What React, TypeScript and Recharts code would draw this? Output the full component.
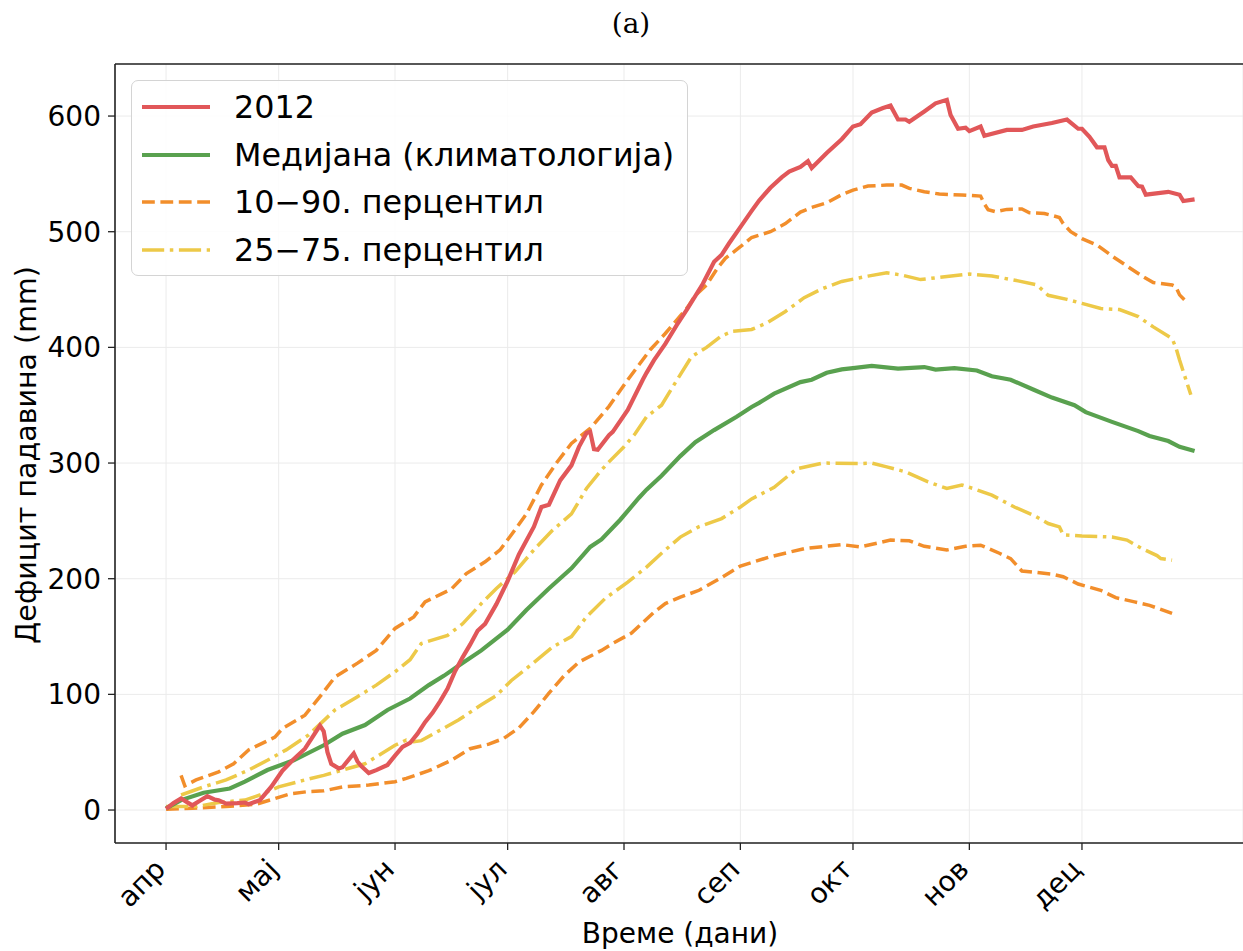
import React from 'react';
import { LineChart, Line, XAxis, YAxis, CartesianGrid, Legend, ReferenceLine } from 'recharts';

// ---- axis ticks ----
const monthTicks = [0, 30, 61, 91, 122, 153, 183, 214, 244];
const monthLabels = ['апр', 'мај', 'јун', 'јул', 'авг', 'сеп', 'окт', 'нов', 'дец'];
const yTicks = [0, 100, 200, 300, 400, 500, 600];

// ---- 2012 ----
const days2012 = [0, 2, 4, 6, 7, 9, 11, 13, 14, 16, 19, 21, 22, 25, 28, 31, 34, 37, 39, 41, 42, 43, 44, 46, 47, 50, 51, 52, 54, 56, 59, 61, 63, 65, 67, 69, 71, 73, 75, 77, 79, 81, 83, 85, 88, 91, 94, 98, 100, 102, 105, 108, 110, 112, 113, 114, 115, 118, 119, 123, 127, 128, 130, 133, 136, 139, 143, 146, 148, 150, 153, 156, 158, 161, 164, 166, 169, 171, 172, 176, 180, 183, 185, 188, 191, 193, 195, 197, 198, 202, 205, 208, 209, 211, 213, 214, 217, 218, 224, 228, 231, 236, 240, 243, 244, 246, 248, 250, 251, 252, 253, 254, 257, 259, 260, 261, 267, 270, 271, 274];
const values2012 = [1, 6, 10, 6, 4, 8, 12, 9, 8.5, 5.5, 6, 6.5, 5, 8.5, 20, 34, 44, 53, 63, 73, 68, 50, 40, 36, 37, 49, 42, 38, 32, 34.5, 39, 47, 54.5, 58, 66, 76, 84, 94, 105, 120, 132, 143, 155, 161, 178, 198, 221, 245, 262, 264, 285, 298, 314, 326, 327, 312, 311.5, 324, 327, 346, 372, 378, 389, 403, 419, 434, 455, 474, 480, 490, 504, 518, 527, 538, 547, 552, 556, 561, 555, 568, 580, 591, 593, 603, 607, 609, 597, 597, 595, 604, 611, 614, 601, 589, 590, 587, 591, 583, 588, 588, 591, 594, 597, 589, 589, 582, 573, 573, 562, 557, 557, 547, 547, 539.5, 539, 532, 534.5, 532, 526.5, 528];

// ---- median (climatology) ----
const daysMedian = [0, 4, 10, 17, 21, 27, 34, 42, 47, 53, 59, 65, 70, 74, 78, 84, 91, 96, 102, 108, 113, 116, 121, 126, 128, 132, 137, 141, 146, 152, 156, 158, 162, 169, 172, 176, 180, 183, 188, 195, 202, 205, 210, 216, 220, 225, 231, 236, 242, 245, 252, 259, 262, 267, 270, 274];
const valuesMedian = [1.5, 8.6, 15, 18.6, 24.5, 34.6, 43, 56, 66, 73.5, 86.5, 96.4, 108, 116, 125, 138, 156, 173, 191.5, 209, 227.5, 234, 251, 270, 277, 289, 306, 318, 328.5, 340, 348.5, 352, 360, 370, 372, 378, 381, 382, 384, 381.7, 383, 380.8, 382, 380, 375, 372, 363.6, 356.6, 350, 344, 335.6, 327.6, 323.4, 319, 314, 310.4];

// ---- 90th percentile ----
const daysP90 = [4, 5, 8, 14, 18, 22, 29, 31, 37, 41, 45, 51, 56, 61, 66, 69, 76, 80, 85, 89, 92, 96, 100, 104, 108, 113, 118, 123, 129, 133, 139, 141, 144, 147, 149, 153, 156, 161, 165, 169, 172, 176, 180, 183, 187, 192, 196, 198, 202, 206, 212, 217, 218, 219, 221, 224, 228, 230, 234, 238, 239, 241, 244, 248, 252, 256, 260, 263, 268, 269, 270, 272];
const valuesP90 = [30, 21, 26, 33, 40, 52, 63, 70.5, 82, 98, 115, 127, 138, 157, 167, 180, 191, 204.5, 214.6, 225, 238, 256, 281, 300, 317, 330, 349, 372, 398, 412, 435, 445, 454, 469, 477, 487, 495, 500, 507, 517, 521, 525, 532, 536, 539.5, 540.3, 540.3, 537.5, 534.6, 532.6, 531.7, 530.8, 524, 519, 517.3, 519.3, 519.6, 516.4, 515.8, 512.3, 507, 500, 494, 488.5, 479, 470.3, 461.7, 456, 454, 452.5, 445.4, 438.7];

// ---- 10th percentile ----
const daysP10 = [0, 7, 16, 24, 29, 33, 38, 42, 47, 54, 61, 64, 70, 76, 81, 86, 90, 94, 98, 102, 106, 110, 116, 119, 124, 130, 133, 137, 142, 148, 153, 161, 170, 180, 185, 193, 198, 202, 208, 213, 217, 222, 225, 228, 236, 239, 243, 249, 253, 258, 262, 268];
const valuesP10 = [0.6, 1.5, 3, 5, 10, 14, 16, 16.6, 20, 21.6, 24.5, 27.4, 34, 43, 53, 57, 62, 71, 85, 101, 116, 128, 138, 144, 153, 171, 178.5, 184, 190, 201, 211, 219, 226, 229.5, 227.5, 233.4, 232.8, 228, 224.8, 228, 229, 222, 217.4, 206.7, 204, 201.7, 195.4, 190, 183.6, 180, 177, 170];

// ---- 75th percentile ----
const daysP75 = [4, 10, 16, 22, 27, 32, 38, 45, 51, 56, 61, 65, 68, 75, 79, 84, 88, 93, 98, 103, 108, 112, 116, 118, 122, 125, 128, 132, 135, 140, 144, 148, 151, 156, 160, 165, 170, 175, 180, 187, 192, 196, 201, 206, 214, 220, 227, 232, 235, 240, 244, 249, 254, 259, 263, 268, 269, 270, 272, 273];
const valuesP75 = [13, 20, 26, 34.6, 43, 52, 65, 86.5, 98, 108, 119.5, 130, 144, 151, 161, 178.5, 191.5, 206, 225, 242, 256, 278, 294, 301, 314, 325.5, 340, 350, 366, 392, 400, 410, 414, 415.5, 421, 431, 443, 451, 457, 461.6, 464.4, 462.5, 458.6, 460.5, 463.4, 461.7, 457.5, 454, 445, 441.5, 438, 433.6, 432.7, 426.6, 417.7, 407.6, 400, 389, 369, 359];

// ---- 25th percentile ----
const daysP25 = [0, 8, 14, 21, 25, 30, 37, 42, 47, 53, 56, 61, 64, 66, 68, 73, 78, 84, 88, 92, 97, 103, 108, 112, 117, 123, 128, 132, 137, 142, 148, 153, 156, 162, 168, 175, 185, 188, 192, 197, 203, 208, 212, 215, 220, 226, 231, 235, 238, 239, 244, 252, 256, 260, 264, 265, 268];
const valuesP25 = [3, 3, 6.5, 8.6, 13, 20, 26, 30, 34.6, 40, 46, 56, 60.5, 59, 60, 69, 78, 91, 99, 112, 125, 141, 150, 167, 183, 197, 210, 222, 236, 245, 252, 262, 269, 279, 295, 300, 299.6, 300, 296.7, 292.4, 283.7, 278, 281, 278, 272.3, 262, 255, 247.7, 244.8, 238, 237, 236, 233.4, 226, 220, 217.4, 216];

const toPoints = (days: number[], vals: number[]) => days.map((d, i) => ({ day: d, v: vals[i] }));

const RED = '#e15759';
const GREEN = '#59a14f';
const ORANGE = '#f28e2b';
const YELLOW = '#edc948';
const SOLID_W = 4.2;
const DASH_W = 3.5;
const DASH = '12.8 5.6';
const DASHDOT = '22.2 5.6 3.5 5.6';
const FONT = '"DejaVu Sans", sans-serif';

const legendItems = [
  { label: '2012', color: RED, width: SOLID_W, dash: undefined as string | undefined },
  { label: 'Медијана (климатологија)', color: GREEN, width: SOLID_W, dash: undefined as string | undefined },
  { label: '10−90. перцентил', color: ORANGE, width: DASH_W, dash: DASH },
  { label: '25−75. перцентил', color: YELLOW, width: DASH_W, dash: DASHDOT },
];

const renderLegend = () => (
  <div
    style={{
      position: 'relative',
      width: 557,
      height: 196,
      boxSizing: 'border-box',
      border: '1.5px solid #d4d4d4',
      borderRadius: 7,
      background: 'rgba(255,255,255,0.85)',
      fontFamily: FONT,
    }}
  >
    {legendItems.map((it, i) => (
      <div
        key={it.label}
        style={{
          position: 'absolute',
          left: 0,
          top: 6 + i * 47.5,
          height: 40,
          display: 'flex',
          alignItems: 'center',
        }}
      >
        <svg width={102} height={40} style={{ display: 'block' }}>
          <line x1={10} x2={78} y1={20} y2={20} stroke={it.color} strokeWidth={it.width} strokeDasharray={it.dash} />
        </svg>
        <span style={{ fontSize: 31.8, color: '#000', whiteSpace: 'nowrap', lineHeight: '40px' }}>{it.label}</span>
      </div>
    ))}
  </div>
);

const XTick = (props: any) => {
  const { x, y, payload } = props;
  const idx = monthTicks.indexOf(payload.value);
  const label = idx >= 0 ? monthLabels[idx] : '';
  return (
    <g transform={`translate(${x},${y})`}>
      <text x={1} y={19} textAnchor="end" transform="rotate(-45 1 19)" fontSize={28} fontFamily={FONT} fill="#000">
        {label}
      </text>
    </g>
  );
};

const XLabel = () => (
  <text x={680} y={943} textAnchor="middle" fontSize={28} fontFamily={FONT} fill="#000">
    Време (дани)
  </text>
);

const YLabel = () => (
  <text x={36} y={455} textAnchor="middle" transform="rotate(-90 36 455)" fontSize={28.5} fontFamily={FONT} fill="#000">
    Дефицит падавина (mm)
  </text>
);

export default function App() {
  return (
    <div style={{ position: 'absolute', left: 0, top: 0, width: 1243, height: 951, background: '#fff' }}>
      <svg width={1243} height={50} style={{ position: 'absolute', left: 0, top: 0 }}>
        <text x={631} y={33} textAnchor="middle" fontSize={28} fontFamily='"DejaVu Serif", serif' fill="#000">
          (a)
        </text>
      </svg>
      <LineChart width={1243} height={951} margin={{ top: 64, right: 0, bottom: 0, left: 0 }}>
        <CartesianGrid stroke="#ebebeb" strokeWidth={1} />
        <XAxis
          type="number"
          dataKey="day"
          domain={[-13.6, 286.9]}
          ticks={monthTicks}
          interval={0}
          allowDataOverflow
          height={108}
          tickSize={7}
          tickMargin={2}
          tick={<XTick />}
          axisLine={{ stroke: '#222', strokeWidth: 1.6 }}
          tickLine={{ stroke: '#222', strokeWidth: 1.3 }}
          label={{ content: () => <XLabel /> }}
        />
        <YAxis
          type="number"
          domain={[-28.5, 645]}
          ticks={yTicks}
          interval={0}
          allowDataOverflow
          width={115}
          tickSize={7}
          tickMargin={7}
          tick={{ fontSize: 28, fontFamily: FONT, fill: '#000' }}
          axisLine={{ stroke: '#222', strokeWidth: 1.6 }}
          tickLine={{ stroke: '#222', strokeWidth: 1.3 }}
          label={{ content: () => <YLabel /> }}
        />
        <ReferenceLine y={645} stroke="#222" strokeWidth={1.6} ifOverflow="extendDomain" />
        <Line data={toPoints(daysP90, valuesP90)} dataKey="v" name="p90" type="linear" stroke={ORANGE} strokeWidth={DASH_W} strokeDasharray={DASH} dot={false} isAnimationActive={false} />
        <Line data={toPoints(daysP10, valuesP10)} dataKey="v" name="p10" type="linear" stroke={ORANGE} strokeWidth={DASH_W} strokeDasharray={DASH} dot={false} isAnimationActive={false} />
        <Line data={toPoints(daysP75, valuesP75)} dataKey="v" name="p75" type="linear" stroke={YELLOW} strokeWidth={DASH_W} strokeDasharray={DASHDOT} dot={false} isAnimationActive={false} />
        <Line data={toPoints(daysP25, valuesP25)} dataKey="v" name="p25" type="linear" stroke={YELLOW} strokeWidth={DASH_W} strokeDasharray={DASHDOT} dot={false} isAnimationActive={false} />
        <Line data={toPoints(daysMedian, valuesMedian)} dataKey="v" name="median" type="linear" stroke={GREEN} strokeWidth={SOLID_W} dot={false} isAnimationActive={false} />
        <Line data={toPoints(days2012, values2012)} dataKey="v" name="2012" type="linear" stroke={RED} strokeWidth={SOLID_W} dot={false} isAnimationActive={false} />
        <Legend
          layout="vertical"
          align="center"
          verticalAlign="middle"
          content={renderLegend}
          wrapperStyle={{ left: 131, top: 80, width: 557, height: 196 }}
        />
      </LineChart>
    </div>
  );
}
